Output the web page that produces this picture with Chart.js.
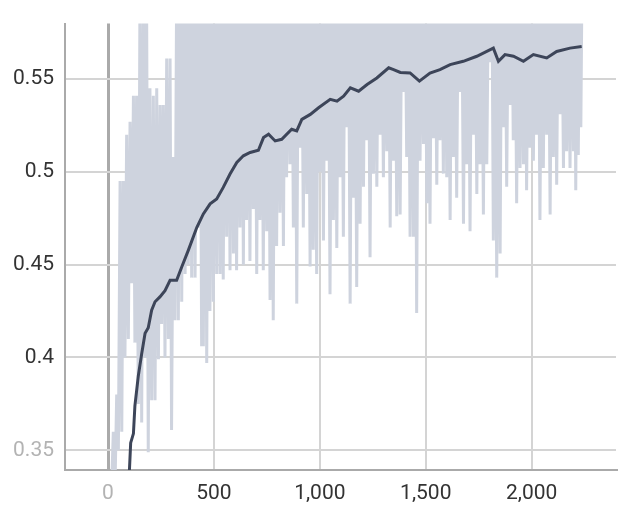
<!DOCTYPE html>
<html>
<head>
<meta charset="utf-8">
<script src="https://cdn.jsdelivr.net/npm/chart.js@4"></script>
<style>
  html, body { margin: 0; padding: 0; background: #fff; }
  #chart { display: block; }
</style>
</head>
<body>
<canvas id="chart" width="628" height="506"></canvas>
<script>
// raw (noisy) series, [step, value]; the tall spikes go off the top of the plot
const rawPoints = [
    [17, 0.33], [25, 0.36], [33, 0.33], [41, 0.38], [49, 0.35], [57, 0.495], [65, 0.36], [72, 0.495],
    [80, 0.40], [88, 0.52], [96, 0.41], [104, 0.527], [112, 0.44], [120, 0.541], [127, 0.408], [135, 0.541],
    [143, 0.375], [151, 0.60], [159, 0.365], [167, 0.60], [175, 0.40], [182, 0.60], [190, 0.349], [198, 0.545],
    [206, 0.377], [214, 0.541], [222, 0.377], [230, 0.545], [238, 0.399], [246, 0.536], [253, 0.418], [261, 0.536],
    [269, 0.40], [277, 0.561], [285, 0.41], [293, 0.561], [300, 0.361], [308, 0.508], [316, 0.42], [324, 0.60],
    [332, 0.42], [340, 0.61], [348, 0.43], [356, 0.60], [364, 0.445], [371, 0.61], [379, 0.45], [387, 0.60],
    [395, 0.443], [403, 0.61], [411, 0.443], [419, 0.60], [426, 0.47], [434, 0.61], [442, 0.406], [446, 0.60],
    [450, 0.406], [458, 0.61], [466, 0.397], [474, 0.60], [481, 0.425], [489, 0.61], [497, 0.43], [505, 0.60],
    [513, 0.445], [521, 0.61], [529, 0.445], [537, 0.60], [544, 0.442], [552, 0.61], [560, 0.465], [568, 0.60],
    [576, 0.447], [584, 0.61], [592, 0.456], [600, 0.60], [607, 0.447], [615, 0.61], [623, 0.47], [631, 0.60],
    [639, 0.45], [647, 0.61], [654, 0.474], [662, 0.60], [670, 0.452], [678, 0.61], [686, 0.48], [694, 0.60],
    [702, 0.445], [710, 0.61], [717, 0.474], [725, 0.60], [733, 0.447], [741, 0.61], [749, 0.468], [757, 0.60],
    [765, 0.431], [773, 0.61], [780, 0.42], [788, 0.60], [796, 0.46], [804, 0.61], [812, 0.478], [820, 0.60],
    [828, 0.46], [836, 0.61], [843, 0.497], [851, 0.60], [859, 0.504], [867, 0.61], [875, 0.47], [883, 0.60],
    [891, 0.429], [899, 0.61], [906, 0.513], [914, 0.60], [922, 0.470], [930, 0.61], [938, 0.488], [946, 0.60],
    [954, 0.449], [962, 0.61], [969, 0.458], [977, 0.60], [985, 0.445], [993, 0.61], [1001, 0.500], [1009, 0.60],
    [1017, 0.463], [1025, 0.61], [1032, 0.506], [1040, 0.60], [1048, 0.434], [1056, 0.61], [1064, 0.474], [1072, 0.60],
    [1080, 0.459], [1088, 0.61], [1095, 0.497], [1103, 0.60], [1111, 0.465], [1119, 0.61], [1127, 0.524], [1135, 0.60],
    [1143, 0.429], [1151, 0.61], [1158, 0.486], [1166, 0.60], [1174, 0.438], [1182, 0.61], [1190, 0.472], [1198, 0.60],
    [1206, 0.492], [1214, 0.61], [1221, 0.517], [1229, 0.60], [1237, 0.454], [1245, 0.61], [1253, 0.499], [1261, 0.60],
    [1269, 0.492], [1277, 0.61], [1284, 0.520], [1292, 0.60], [1300, 0.497], [1308, 0.61], [1316, 0.511], [1324, 0.60],
    [1332, 0.470], [1340, 0.61], [1347, 0.506], [1355, 0.60], [1363, 0.476], [1371, 0.61], [1379, 0.477], [1387, 0.60],
    [1394, 0.543], [1402, 0.61], [1410, 0.508], [1418, 0.60], [1426, 0.465], [1434, 0.61], [1442, 0.465], [1450, 0.60],
    [1457, 0.424], [1465, 0.61], [1473, 0.506], [1481, 0.60], [1489, 0.515], [1497, 0.61], [1505, 0.483], [1513, 0.60],
    [1520, 0.472], [1528, 0.61], [1536, 0.518], [1544, 0.60], [1552, 0.493], [1560, 0.61], [1567, 0.517], [1575, 0.60],
    [1583, 0.499], [1591, 0.61], [1599, 0.497], [1607, 0.60], [1615, 0.474], [1623, 0.61], [1630, 0.508], [1638, 0.60],
    [1646, 0.486], [1654, 0.61], [1662, 0.543], [1670, 0.60], [1678, 0.472], [1686, 0.61], [1693, 0.504], [1701, 0.60],
    [1709, 0.468], [1717, 0.61], [1725, 0.52], [1733, 0.60], [1741, 0.488], [1749, 0.61], [1756, 0.504], [1764, 0.60],
    [1772, 0.477], [1780, 0.61], [1788, 0.504], [1796, 0.60], [1804, 0.559], [1812, 0.61], [1819, 0.463], [1827, 0.60],
    [1835, 0.443], [1843, 0.61], [1851, 0.456], [1858, 0.60], [1866, 0.524], [1874, 0.61], [1882, 0.492], [1890, 0.60],
    [1898, 0.536], [1906, 0.61], [1913, 0.517], [1921, 0.60], [1929, 0.483], [1937, 0.61], [1945, 0.502], [1953, 0.60],
    [1961, 0.504], [1969, 0.61], [1976, 0.490], [1984, 0.60], [1992, 0.513], [2000, 0.61], [2008, 0.506], [2016, 0.60],
    [2023, 0.52], [2031, 0.61], [2039, 0.474], [2047, 0.60], [2055, 0.502], [2063, 0.61], [2071, 0.520], [2079, 0.60],
    [2087, 0.477], [2095, 0.61], [2102, 0.508], [2110, 0.60], [2118, 0.493], [2126, 0.61], [2134, 0.531], [2142, 0.60],
    [2150, 0.502], [2158, 0.61], [2165, 0.511], [2173, 0.60], [2181, 0.502], [2189, 0.61], [2197, 0.511], [2203, 0.60],
    [2208, 0.490], [2214, 0.61], [2220, 0.509], [2226, 0.60], [2232, 0.524], [2238, 0.61], [2244, 0.60]
];

// smoothed series, [step, value]
const smoothPoints = [
    [95, 0.335], [101, 0.339], [107, 0.354], [120, 0.359], [127, 0.374], [143, 0.390], [159, 0.402],
    [175, 0.413], [190, 0.416], [206, 0.4255], [222, 0.430], [245, 0.4326], [269, 0.436], [293, 0.4416],
    [324, 0.4416], [348, 0.4487], [379, 0.4577], [419, 0.470], [450, 0.4773], [482, 0.4827], [513, 0.4854],
    [544, 0.4916], [576, 0.4988], [608, 0.505], [639, 0.5086], [671, 0.5104], [710, 0.5116], [734, 0.5184],
    [758, 0.5202], [789, 0.5166], [820, 0.5175], [867, 0.5229], [891, 0.522], [915, 0.5282], [955, 0.5309],
    [994, 0.5345], [1049, 0.539], [1081, 0.538], [1112, 0.5407], [1144, 0.5452], [1183, 0.5434], [1223, 0.547],
    [1269, 0.5505], [1325, 0.556], [1348, 0.555], [1380, 0.5535], [1426, 0.5532], [1470, 0.5488], [1520, 0.5532],
    [1567, 0.555], [1615, 0.5577], [1677, 0.5595], [1741, 0.5622], [1788, 0.5648], [1819, 0.5666], [1843, 0.5595],
    [1874, 0.5631], [1914, 0.5622], [1961, 0.5595], [2008, 0.5631], [2071, 0.5613], [2118, 0.5648], [2181, 0.5666],
    [2236, 0.5675]
];

const xTicks = [0, 500, 1000, 1500, 2000];
const yTicks = [0.35, 0.4, 0.45, 0.5, 0.55];
const xRange = [-203, 2398];
const yRange = [0.3394, 0.5798];

const toXY = pts => pts.map(p => ({ x: p[0], y: p[1] }));

const tickFont = { family: 'Roboto', size: 21 };
const labelColor = '#333333';
const fadedColor = '#b3b3b3';

new Chart(document.getElementById('chart'), {
    type: 'line',
    data: {
        datasets: [
            {
                label: 'smoothed',
                data: toXY(smoothPoints),
                borderColor: '#3d4559',
                borderWidth: 3,
                pointRadius: 0,
                tension: 0,
                clip: 0,
                order: 0
            },
            {
                label: 'raw',
                data: toXY(rawPoints),
                borderColor: '#ced3de',
                borderWidth: 3,
                pointRadius: 0,
                tension: 0,
                clip: 0,
                order: 1
            }
        ]
    },
    options: {
        responsive: false,
        animation: false,
        devicePixelRatio: 1,
        layout: { padding: { top: 22, right: 12, left: 0, bottom: 0 } },
        plugins: {
            legend: { display: false },
            tooltip: { enabled: false }
        },
        scales: {
            x: {
                type: 'linear',
                min: xRange[0],
                max: xRange[1],
                afterFit: s => { s.height = 36; },
                afterBuildTicks: s => { s.ticks = xTicks.map(v => ({ value: v })); },
                grid: {
                    drawTicks: false,
                    color: c => (c.tick && c.tick.value === 0) ? '#aaaaaa' : '#d4d4d4',
                    lineWidth: c => (c.tick && c.tick.value === 0) ? 3 : 2
                },
                border: { color: '#aaaaaa', width: 2 },
                ticks: {
                    padding: 11,
                    font: tickFont,
                    color: c => c.tick.value === 0 ? fadedColor : labelColor,
                    callback: v => v.toLocaleString('en-US')
                }
            },
            y: {
                type: 'linear',
                min: yRange[0],
                max: yRange[1],
                afterFit: s => { s.width = 65; },
                afterBuildTicks: s => { s.ticks = yTicks.map(v => ({ value: v })); },
                grid: {
                    drawTicks: false,
                    color: '#d4d4d4',
                    lineWidth: 2
                },
                border: { color: '#aaaaaa', width: 2 },
                ticks: {
                    padding: 11,
                    font: tickFont,
                    color: c => c.tick.value === 0.35 ? fadedColor : labelColor,
                    callback: v => String(+v.toFixed(2))
                }
            }
        }
    }
});
</script>
</body>
</html>
